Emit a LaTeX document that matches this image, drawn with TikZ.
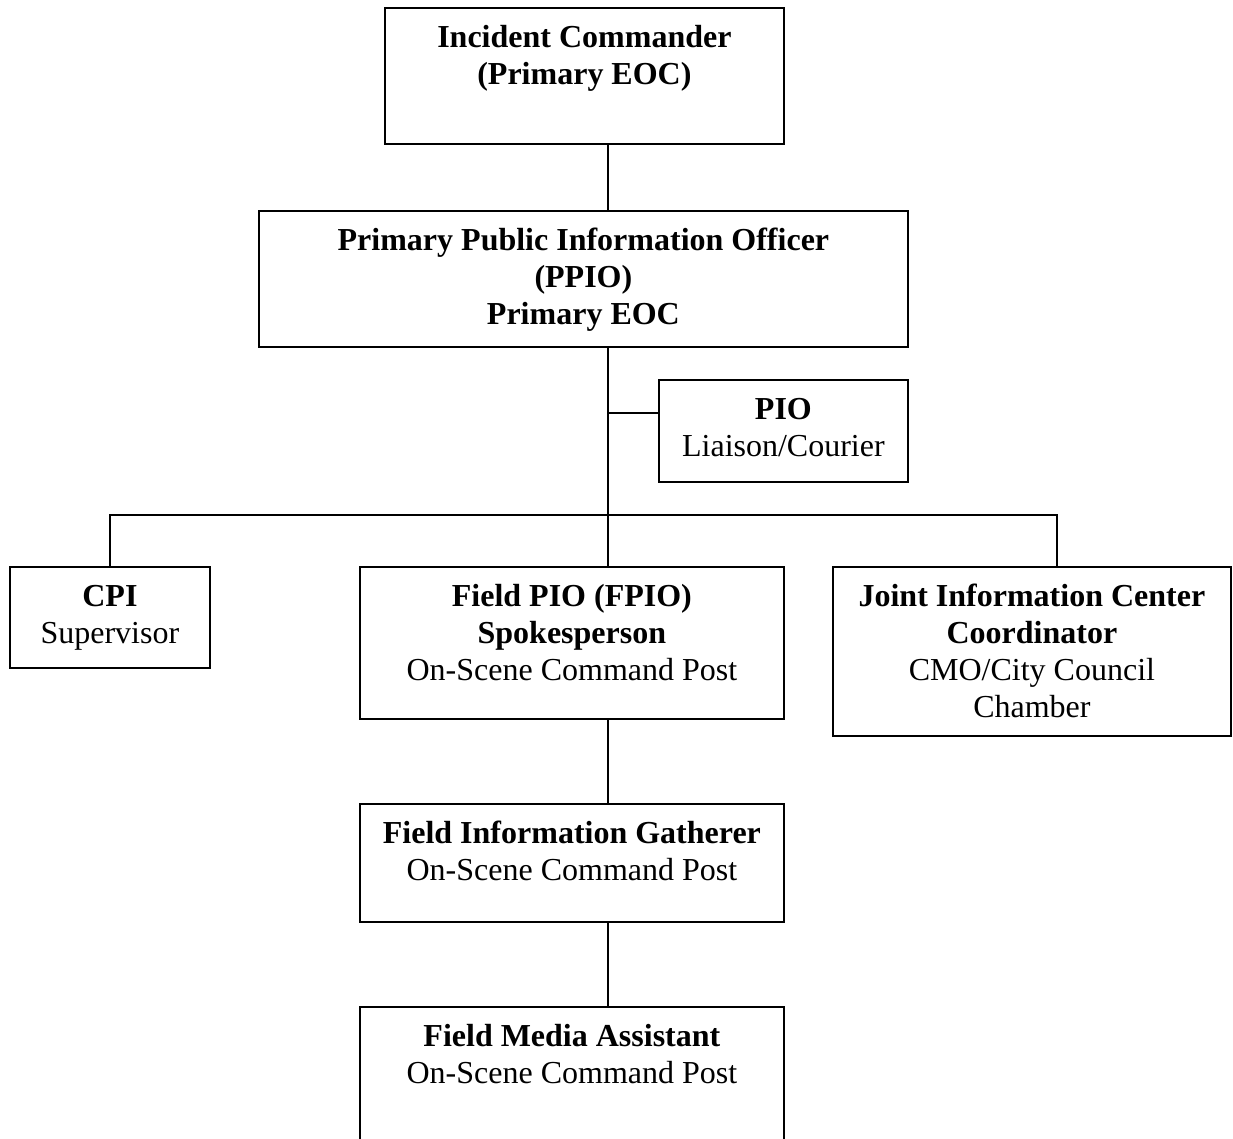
\documentclass[tikz,border=0pt]{standalone}
\usepackage{fontspec}
\setmainfont{Liberation Serif}
\usetikzlibrary{calc}
\begin{document}
\begin{tikzpicture}[x=1pt,y=-1pt,
  box/.style={draw=black, line width=1.8pt, rectangle, inner sep=0pt, anchor=north west},
  txt/.style={align=center, inner sep=0pt, anchor=north, font=\fontsize{32}{37}\selectfont},
  conn/.style={draw=black, line width=1.8pt}]
\useasboundingbox (0,0) rectangle (1233,1139);
\clip (0,0) rectangle (1233,1139);
% boxes
\node[box, minimum width=399pt, minimum height=136pt] (ic) at (384,7) {};
\node[box, minimum width=649pt, minimum height=136pt] (ppio) at (258,210) {};
\node[box, minimum width=249pt, minimum height=102pt] (pio) at (658,379) {};
\node[box, minimum width=200pt, minimum height=101pt] (cpi) at (9,566) {};
\node[box, minimum width=424pt, minimum height=152pt] (fpio) at (359,566) {};
\node[box, minimum width=398pt, minimum height=169pt] (jic) at (832,566) {};
\node[box, minimum width=424pt, minimum height=118pt] (fig) at (359,803) {};
\node[box, minimum width=424pt, minimum height=160pt] (fma) at (359,1006) {};
% texts
\node[txt, yshift=-17pt] (ict) at (ic.north) {\rule{0pt}{23pt}\textbf{Incident Commander}\\\textbf{(Primary EOC)}};
\node[txt, yshift=-17pt] (ppiot) at (ppio.north) {\rule{0pt}{23pt}\textbf{Primary Public Information Officer}\\\textbf{(PPIO)}\\\textbf{Primary EOC}};
\node[txt, yshift=-17pt] (piot) at (pio.north) {\rule{0pt}{23pt}\textbf{PIO}\\Liaison/Courier};
\node[txt, yshift=-17pt] (cpit) at (cpi.north) {\rule{0pt}{23pt}\textbf{CPI}\\Supervisor};
\node[txt, yshift=-17pt] (fpiot) at (fpio.north) {\rule{0pt}{23pt}\textbf{Field PIO (FPIO)}\\\textbf{Spokesperson}\\On-Scene Command Post};
\node[txt, yshift=-17pt] (jict) at (jic.north) {\rule{0pt}{23pt}\textbf{Joint Information Center}\\\textbf{Coordinator}\\CMO/City Council\\Chamber};
\node[txt, yshift=-17pt] (figt) at (fig.north) {\rule{0pt}{23pt}\textbf{Field Information Gatherer}\\On-Scene Command Post};
\node[txt, yshift=-17pt] (fmat) at (fma.north) {\rule{0pt}{23pt}\textbf{Field Media Assistant}\\On-Scene Command Post};
% connector helpers
\coordinate (spine) at (608,0);
\coordinate (piojoin) at (608,413);
\coordinate (busR) at (1057,515);
% connectors
\draw[conn] (ic.south -| spine) -- (ppio.north -| spine);
\draw[conn] (ppio.south -| spine) -- (fpio.north -| spine);
\draw[conn] (piojoin) -- (piojoin -| pio.west);
\draw[conn] (cpi.north) |- (busR) -- (jic.north -| busR);
\draw[conn] (fpio.south -| spine) -- (fig.north -| spine);
\draw[conn] (fig.south -| spine) -- (fma.north -| spine);
\end{tikzpicture}
\end{document}
